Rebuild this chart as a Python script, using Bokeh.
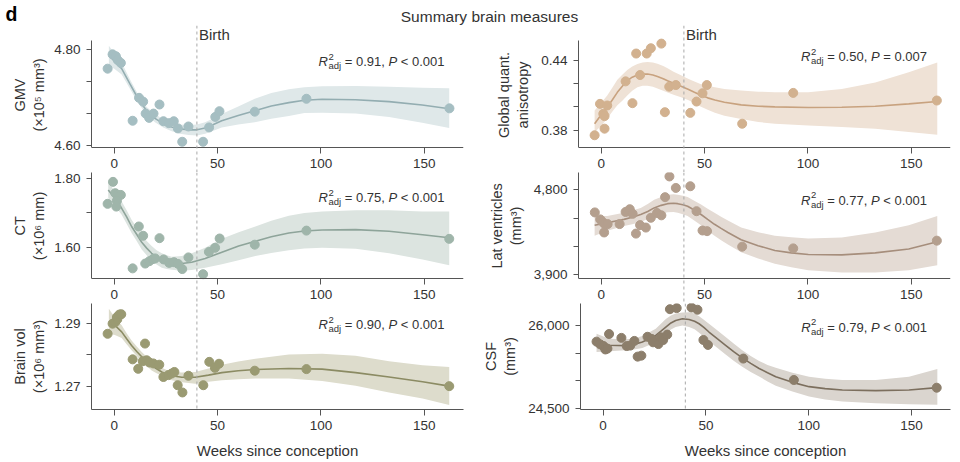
from bokeh.plotting import figure
from bokeh.layouts import column, row
from bokeh.models import Range1d, FixedTicker, Span, Label, PrintfTickFormatter, NumeralTickFormatter
from bokeh.embed import file_html
from bokeh.resources import INLINE

FONT = "Liberation Sans"

# ---------------- data ----------------
week_ticks = [0, 50, 100, 150]
birth_week = 40

# GMV
gmv_w = [-3.2, -0.8, 0.8, 1.7, 3.2, 8.9, 12.0, 14.0, 15.2, 16.9, 19.0, 21.9, 23.8, 26.4, 28.8, 30.8, 32.9, 35.9, 43.0, 45.9, 48.9, 50.9, 68.0, 93.0, 162.2]
gmv_v = [4.760, 4.790, 4.786, 4.778, 4.772, 4.651, 4.699, 4.691, 4.666, 4.657, 4.666, 4.685, 4.650, 4.646, 4.650, 4.635, 4.607, 4.639, 4.607, 4.637, 4.659, 4.671, 4.670, 4.697, 4.677]
gmv_fw = [-2.6, 0, 3.6, 7.6, 11.7, 15.7, 19.7, 23.7, 27.8, 31.8, 35.9, 40, 44, 48, 52, 60, 68, 76, 84.5, 92, 100.6, 116.8, 133, 149, 162.1]
gmv_fit = [4.787, 4.776, 4.760, 4.728, 4.696, 4.672, 4.656, 4.645, 4.638, 4.634, 4.632, 4.632, 4.636, 4.643, 4.651, 4.662, 4.672, 4.682, 4.689, 4.694, 4.696, 4.695, 4.691, 4.684, 4.676]
gmv_hi = [4.808, 4.793, 4.773, 4.738, 4.705, 4.680, 4.665, 4.654, 4.647, 4.643, 4.642, 4.643, 4.648, 4.656, 4.665, 4.681, 4.697, 4.709, 4.717, 4.721, 4.723, 4.724, 4.722, 4.720, 4.719]
gmv_lo = [4.766, 4.760, 4.748, 4.718, 4.687, 4.664, 4.648, 4.637, 4.629, 4.624, 4.621, 4.620, 4.624, 4.630, 4.637, 4.643, 4.648, 4.655, 4.661, 4.667, 4.668, 4.666, 4.659, 4.647, 4.636]

# Global quantitative anisotropy
gqa_w = [-3.2, -0.6, 1.0, 1.6, 1.6, 2.9, 11.8, 15.1, 16.9, 18.8, 22.0, 24.0, 29.1, 30.8, 32.9, 36.1, 43.1, 46.1, 49.0, 51.1, 68.2, 92.9, 162.4]
gqa_v = [0.3755, 0.4027, 0.3941, 0.3921, 0.3812, 0.4013, 0.4222, 0.4033, 0.4463, 0.4277, 0.4463, 0.4509, 0.4549, 0.3955, 0.4176, 0.4190, 0.3949, 0.4047, 0.4119, 0.4190, 0.3855, 0.4122, 0.4056]
gqa_fw = [-3.2, -0.3, 2.9, 5.5, 7.8, 10.2, 12.6, 15, 17.5, 20, 22.4, 25, 27.2, 30, 32.1, 35, 38.6, 42, 45.1, 48, 51.5, 55, 59.6, 67.7, 76, 84, 100.2, 116.4, 132.6, 148.8, 162.6]
gqa_fit = [0.3855, 0.3926, 0.3998, 0.4065, 0.4127, 0.4180, 0.4228, 0.4258, 0.4277, 0.4285, 0.4286, 0.4277, 0.4265, 0.4245, 0.4228, 0.4205, 0.4179, 0.4153, 0.4127, 0.4103, 0.4079, 0.4060, 0.4041, 0.4018, 0.4007, 0.4001, 0.3995, 0.3998, 0.4007, 0.4027, 0.4047]
gqa_hi = [0.3969, 0.4030, 0.4099, 0.4170, 0.4235, 0.4280, 0.4320, 0.4350, 0.4372, 0.4385, 0.4390, 0.4385, 0.4375, 0.4355, 0.4335, 0.4305, 0.4275, 0.4245, 0.4220, 0.4200, 0.4185, 0.4170, 0.4155, 0.4142, 0.4133, 0.4127, 0.4127, 0.4156, 0.4213, 0.4300, 0.4386]
gqa_lo = [0.3783, 0.3830, 0.3900, 0.3962, 0.4015, 0.4055, 0.4100, 0.4140, 0.4170, 0.4185, 0.4185, 0.4175, 0.4160, 0.4140, 0.4125, 0.4105, 0.4085, 0.4060, 0.4035, 0.4005, 0.3975, 0.3950, 0.3925, 0.3895, 0.3870, 0.3855, 0.3840, 0.3826, 0.3812, 0.3783, 0.3760]

# Cortical thickness
ct_w = [-3.2, -0.6, 0.5, 1.8, 3.2, 1.3, 1.0, 8.9, 11.9, 14.0, 15.0, 17.0, 18.7, 19.8, 21.9, 23.9, 26.6, 28.9, 30.9, 32.9, 35.9, 43.0, 45.8, 48.8, 51.0, 68.0, 93.0, 162.1]
ct_v = [1.726, 1.790, 1.757, 1.752, 1.752, 1.735, 1.718, 1.538, 1.660, 1.633, 1.552, 1.559, 1.565, 1.567, 1.626, 1.564, 1.554, 1.556, 1.551, 1.536, 1.570, 1.521, 1.586, 1.598, 1.625, 1.607, 1.648, 1.624]
ct_fw = [-2.9, 0.3, 3.6, 6, 8.4, 11, 13.3, 15.7, 18.1, 20.5, 23, 25.4, 27.8, 32.7, 37.5, 44, 52.1, 60.2, 68.3, 76, 84.5, 92, 100.6, 116.8, 133, 149.2, 162.1]
ct_fit = [1.766, 1.742, 1.713, 1.688, 1.660, 1.636, 1.614, 1.597, 1.582, 1.570, 1.561, 1.556, 1.553, 1.552, 1.556, 1.567, 1.585, 1.603, 1.617, 1.630, 1.641, 1.647, 1.650, 1.651, 1.646, 1.636, 1.627]
ct_hi = [1.790, 1.762, 1.733, 1.707, 1.680, 1.656, 1.636, 1.618, 1.603, 1.591, 1.582, 1.576, 1.572, 1.574, 1.582, 1.598, 1.624, 1.643, 1.660, 1.677, 1.691, 1.699, 1.704, 1.707, 1.707, 1.704, 1.704]
ct_lo = [1.742, 1.720, 1.694, 1.668, 1.641, 1.616, 1.593, 1.576, 1.560, 1.549, 1.540, 1.536, 1.534, 1.531, 1.533, 1.540, 1.550, 1.562, 1.574, 1.583, 1.591, 1.596, 1.598, 1.595, 1.582, 1.564, 1.547]

# Lateral ventricles
lv_w = [-3.1, -0.5, 0.6, 1.4, 1.8, 3.1, 8.9, 11.8, 13.8, 15.2, 16.8, 18.8, 21.6, 24.0, 27.0, 29.1, 30.9, 33.0, 36.1, 43.1, 46.1, 49.0, 51.2, 68.2, 92.9, 162.4]
lv_v = [4560, 4486, 4460, 4347, 4434, 4436, 4436, 4565, 4594, 4545, 4335, 4425, 4399, 4503, 4554, 4529, 4722, 4942, 4820, 4838, 4573, 4368, 4361, 4196, 4178, 4260]
lv_fw = [-3.2, 2.9, 11, 15, 19.1, 22.5, 25.6, 29, 32.1, 35, 37, 39.5, 41.8, 45, 48.3, 51.5, 54.8, 58, 61.3, 67.7, 75.9, 84, 92, 100.2, 116.4, 132.6, 148.8, 162.6]
lv_fit = [4423, 4451, 4486, 4508, 4538, 4570, 4608, 4635, 4653, 4658, 4653, 4642, 4626, 4585, 4538, 4486, 4434, 4390, 4347, 4270, 4207, 4155, 4130, 4113, 4109, 4130, 4172, 4249]
lv_hi = [4521, 4521, 4556, 4580, 4608, 4650, 4695, 4725, 4748, 4752, 4748, 4738, 4723, 4685, 4643, 4600, 4556, 4515, 4475, 4399, 4350, 4312, 4295, 4284, 4294, 4347, 4423, 4521]
lv_lo = [4312, 4364, 4416, 4435, 4458, 4490, 4521, 4545, 4563, 4565, 4556, 4540, 4521, 4475, 4423, 4365, 4312, 4265, 4220, 4137, 4070, 4015, 3978, 3945, 3921, 3921, 3945, 3998]

# Brain volume
bv_w = [-3.2, -0.8, 0.5, 1.5, 1.3, 2.5, 3.4, 8.9, 11.6, 13.8, 14.9, 15.7, 17.0, 18.9, 21.8, 23.8, 26.2, 27.8, 29.1, 30.7, 33.0, 35.9, 43.1, 46.0, 48.7, 50.7, 68.0, 93.0, 162.1]
bv_v = [1.2866, 1.2898, 1.2903, 1.2912, 1.2919, 1.2927, 1.2928, 1.2785, 1.2755, 1.2779, 1.2835, 1.2782, 1.2775, 1.2772, 1.2768, 1.2729, 1.2735, 1.2740, 1.2745, 1.2703, 1.2680, 1.2733, 1.2703, 1.2777, 1.2758, 1.2771, 1.2749, 1.2754, 1.2700]
bv_fw = [-2.6, 0.3, 3.6, 6, 8.4, 11, 13.3, 15.7, 18.1, 20.5, 23, 25.4, 27.8, 32.7, 39.2, 45.6, 52.1, 60, 68.3, 84.5, 100.6, 116.8, 133, 149.2, 162.1]
bv_fit = [1.2905, 1.2893, 1.2872, 1.2850, 1.2829, 1.2809, 1.2793, 1.2779, 1.2766, 1.2755, 1.2745, 1.2738, 1.2733, 1.2728, 1.2728, 1.2735, 1.2743, 1.2749, 1.2753, 1.2756, 1.2754, 1.2743, 1.2729, 1.2714, 1.2700]
bv_hi = [1.2945, 1.2918, 1.2893, 1.2868, 1.2845, 1.2825, 1.2808, 1.2793, 1.2779, 1.2768, 1.2758, 1.2751, 1.2745, 1.2743, 1.2745, 1.2756, 1.2768, 1.2778, 1.2787, 1.2800, 1.2803, 1.2796, 1.2779, 1.2766, 1.2761]
bv_lo = [1.2866, 1.2862, 1.2853, 1.2833, 1.2814, 1.2795, 1.2777, 1.2764, 1.2750, 1.2741, 1.2733, 1.2725, 1.2719, 1.2712, 1.2708, 1.2714, 1.2719, 1.2722, 1.2724, 1.2724, 1.2716, 1.2701, 1.2680, 1.2661, 1.2640]

# CSF
csf_w = [-3.2, -1.4, 0.2, 1.1, 2.1, 2.9, 8.9, 11.5, 13.2, 15.2, 16.8, 18.6, 21.6, 23.7, 24.3, 26.9, 28.1, 29.2, 31.2, 32.5, 35.8, 43.0, 45.9, 48.8, 51.0, 68.2, 92.8, 162.3]
csf_v = [25712, 25662, 25632, 25570, 25585, 25850, 25780, 25632, 25640, 25725, 25440, 25458, 25800, 25760, 25700, 25668, 25790, 25740, 25840, 26300, 26320, 26330, 26290, 25742, 25652, 25405, 25017, 24877]
csf_fw = [-3.2, 2.9, 11, 15, 19.1, 22.5, 25.6, 28, 30.5, 33, 35.3, 38.6, 41.8, 44.5, 46.7, 49, 51.5, 55.5, 59.6, 63.5, 67.7, 71.8, 75.9, 80, 84, 92.1, 100.2, 108, 116.4, 132.6, 148.8, 162.6]
csf_fit = [25676, 25646, 25640, 25660, 25706, 25766, 25826, 25896, 25976, 26050, 26096, 26126, 26114, 26080, 26036, 25970, 25886, 25766, 25646, 25530, 25418, 25318, 25226, 25148, 25076, 24974, 24896, 24860, 24836, 24824, 24836, 24878]
csf_hi = [25856, 25766, 25754, 25770, 25814, 25880, 25946, 26030, 26120, 26185, 26220, 26240, 26246, 26220, 26174, 26110, 26036, 25920, 25796, 25676, 25556, 25450, 25360, 25290, 25238, 25150, 25076, 25040, 25016, 25016, 25076, 25214]
csf_lo = [25526, 25538, 25556, 25570, 25598, 25650, 25706, 25770, 25850, 25930, 25975, 26006, 25976, 25935, 25874, 25800, 25718, 25600, 25478, 25365, 25256, 25160, 25080, 24990, 24914, 24810, 24716, 24665, 24626, 24596, 24578, 24566]

# y tick values (labelled major + unlabelled minor)
gmv_ticks, gmv_minor = [4.60, 4.80], [4.6667, 4.7333]
gqa_ticks, gqa_minor = [0.38, 0.44], [0.40, 0.42]
ct_ticks, ct_minor = [1.60, 1.80], [1.70]
lv_ticks, lv_minor = [3900, 4800], [4200, 4500]
bv_ticks, bv_minor = [1.27, 1.29], [1.28]
csf_ticks, csf_minor = [24500, 26000], [25000, 25500]

# statistics text
stats = {
    "gmv": ("0.91", "< 0.001"), "gqa": ("0.50", "= 0.007"),
    "ct": ("0.75", "< 0.001"), "lv": ("0.77", "< 0.001"),
    "bv": ("0.90", "< 0.001"), "csf": ("0.79", "< 0.001"),
}

# ---------------- helpers ----------------
AW = {'R': 722, 'P': 667, ' ': 278, '=': 584, '<': 584, '.': 278, ',': 278,
      'a': 556, 'd': 556, 'j': 222}
for _c in "0123456789":
    AW[_c] = 556


def tw(s, size):
    return sum(AW[c] for c in s) / 1000.0 * size


TXT = "#333333"


def add_stat(p, r2, pstr, x_anchor, y_top, dy):
    f, s = 13, 9.5
    parts = []
    x = 0.0
    parts.append(("R", f, "italic", x, 0))
    x += tw("R", f)
    parts.append(("2", s, "normal", x + 0.5, 5))
    parts.append(("adj", s, "normal", x + 0.5, -4))
    x += 0.5 + tw("adj", s) + tw(" ", f)
    t = "= " + r2 + ","
    parts.append((t, f, "normal", x, 0))
    x += tw(t, f) + tw(" ", f)
    parts.append(("P", f, "italic", x, 0))
    x += tw("P", f) + tw(" ", f)
    parts.append((pstr, f, "normal", x, 0))
    x += tw(pstr, f)
    for text, size, style, xo, yo in parts:
        p.add_layout(Label(x=x_anchor, y=y_top, x_offset=xo - x, y_offset=-dy + yo,
                           text=text, text_font=FONT, text_font_size=f"{size}px",
                           text_font_style=style, text_color=TXT,
                           text_align="left", text_baseline="middle"))


# layout (pixels): each column of frames runs continuously so the birth line is unbroken
HDR_H = 25
DATA_H = [107, 106, 106]   # height of the data region of each row
EXT_TOP = [15, 0, 0]       # frame space above the data region
EXT_BOT = [25, 25, 0]      # frame space below the data region (tick labels)
BOT_B = [0, 0, 53]
LEFT_B = [91, 98]
RIGHT_B = [17, 10]
YLAB_STANDOFF = [4, 7]
YLAB_SIZE = 14.5
NBSP = "\u00a0"


def centred_label(lines, r):
    # the axis title is centred on the whole frame; pad so it centres on the data region
    shift = (EXT_BOT[r] - EXT_TOP[r]) / 2.0
    n = int(round(2 * shift / (0.278 * YLAB_SIZE)))
    return "\n".join(NBSP * n + ln for ln in lines)


def panel(r, c, ylabel, pw, pv, fw, fit, hi, lo, yr, ticks, minor, fmt,
          pcol, lcol, bcol, key, x_anchor, dy):
    per_px = (yr[1] - yr[0]) / DATA_H[r]
    y0 = yr[0] - EXT_BOT[r] * per_px
    y1 = yr[1] + EXT_TOP[r] * per_px
    height = DATA_H[r] + EXT_TOP[r] + EXT_BOT[r] + BOT_B[r]
    p = figure(width=480, height=height, x_range=Range1d(-11, 169),
               y_range=Range1d(y0, y1), toolbar_location=None, output_backend="svg",
               min_border_left=LEFT_B[c], min_border_right=RIGHT_B[c],
               min_border_top=0, min_border_bottom=BOT_B[r])
    p.outline_line_color = None
    p.grid.visible = False
    p.background_fill_color = "white"
    p.border_fill_color = "white"

    p.varea(x=fw, y1=lo, y2=hi, fill_color=bcol, fill_alpha=1.0)
    p.line(x=fw, y=fit, line_color=lcol, line_width=1.6)
    p.add_layout(Span(location=birth_week, dimension="height", line_color="#a8a8a8",
                      line_dash="3 3", line_width=1))
    p.scatter(x=pw, y=pv, size=9, fill_color=pcol, line_color=pcol)

    for ax in (p.xaxis[0], p.yaxis[0]):
        ax.axis_line_color = "#555555"
        ax.major_tick_line_color = "#555555"
        ax.minor_tick_line_color = "#555555"
        ax.major_label_text_color = TXT
        ax.major_label_text_font = FONT
        ax.major_label_text_font_size = "13.5px"
        ax.axis_label_text_font = FONT
        ax.axis_label_text_font_style = "normal"
        ax.axis_label_text_color = TXT
        ax.major_tick_in = 0
        ax.minor_tick_in = 0

    xa = p.xaxis[0]
    xa.ticker = FixedTicker(ticks=week_ticks, minor_ticks=[])
    xa.major_tick_out = 6
    xa.major_label_standoff = 5
    if r < 2:
        xa.fixed_location = yr[0]
    else:
        xa.axis_label = "Weeks since conception"
        xa.axis_label_text_font_size = "15px"
        xa.axis_label_standoff = 9

    ya = p.yaxis[0]
    ya.bounds = (yr[0], yr[1])
    ya.ticker = FixedTicker(ticks=ticks, minor_ticks=minor)
    ya.formatter = fmt
    ya.major_tick_out = 5
    ya.minor_tick_out = 5
    ya.major_label_standoff = 6
    ya.axis_label = centred_label(ylabel, r)
    ya.axis_label_text_font_size = f"{YLAB_SIZE}px"
    ya.axis_label_standoff = YLAB_STANDOFF[c]

    if r == 0:
        p.add_layout(Label(x=birth_week, y=yr[1], x_offset=2, y_offset=6.5, text="Birth",
                           text_font=FONT, text_font_size="15px", text_color=TXT,
                           text_align="left", text_baseline="middle"))
    add_stat(p, stats[key][0], stats[key][1], x_anchor, yr[1], dy)
    return p


f2 = PrintfTickFormatter(format="%.2f")
fc = NumeralTickFormatter(format="0,0")

p_gmv = panel(0, 0, ["GMV", "(×10⁵ mm³)"], gmv_w, gmv_v, gmv_fw, gmv_fit, gmv_hi, gmv_lo,
              (4.595, 4.819), gmv_ticks, gmv_minor, f2,
              "#a5bec2", "#93adb1", "#dfe8e9", "gmv", 159.8, 21)
p_gqa = panel(0, 1, ["Global quant.", "anisotropy"], gqa_w, gqa_v, gqa_fw, gqa_fit, gqa_hi, gqa_lo,
              (0.3649, 0.4576), gqa_ticks, gqa_minor, f2,
              "#d2b18f", "#c8a27f", "#efe2d6", "gqa", 157.6, 16)
p_ct = panel(1, 0, ["CT", "(×10⁶ mm)"], ct_w, ct_v, ct_fw, ct_fit, ct_hi, ct_lo,
             (1.5085, 1.8173), ct_ticks, ct_minor, f2,
             "#9fb5aa", "#8ea49a", "#dce4e0", "ct", 159.8, 25)
p_lv = panel(1, 1, ["Lat ventricles", "(mm³)"], lv_w, lv_v, lv_fw, lv_fit, lv_hi, lv_lo,
             (3858, 4984), lv_ticks, lv_minor, fc,
             "#b49f8e", "#a68e7c", "#e4dbd4", "lv", 157.6, 27.5)
p_bv = panel(2, 0, ["Brain vol", "(×10⁶ mm³)"], bv_w, bv_v, bv_fw, bv_fit, bv_hi, bv_lo,
             (1.2626, 1.2962), bv_ticks, bv_minor, f2,
             "#9a9a72", "#8b8b63", "#dddccc", "bv", 159.8, 21)
p_csf = panel(2, 1, ["CSF", "(mm³)"], csf_w, csf_v, csf_fw, csf_fit, csf_hi, csf_lo,
              (24482, 26403), csf_ticks, csf_minor, fc,
              "#8c7e6b", "#7c6f5e", "#dad5cf", "csf", 157.6, 23.5)

# header with panel letter and title
hdr = figure(width=960, height=HDR_H, x_range=Range1d(0, 960), y_range=Range1d(0, HDR_H),
             toolbar_location=None, output_backend="svg", x_axis_type=None, y_axis_type=None,
             min_border=0)
hdr.outline_line_color = None
hdr.add_layout(Label(x=5, y=HDR_H - 13.5, text="d", text_font=FONT, text_font_size="19.5px",
                     text_font_style="bold", text_color="#000000", text_baseline="middle"))
hdr.add_layout(Label(x=489, y=HDR_H - 16, text="Summary brain measures", text_font=FONT,
                     text_font_size="15.5px", text_color=TXT, text_align="center",
                     text_baseline="middle"))

layout = column(hdr, row(p_gmv, p_gqa), row(p_ct, p_lv), row(p_bv, p_csf))

with open("out.html", "w") as fh:
    fh.write(file_html(layout, INLINE))
